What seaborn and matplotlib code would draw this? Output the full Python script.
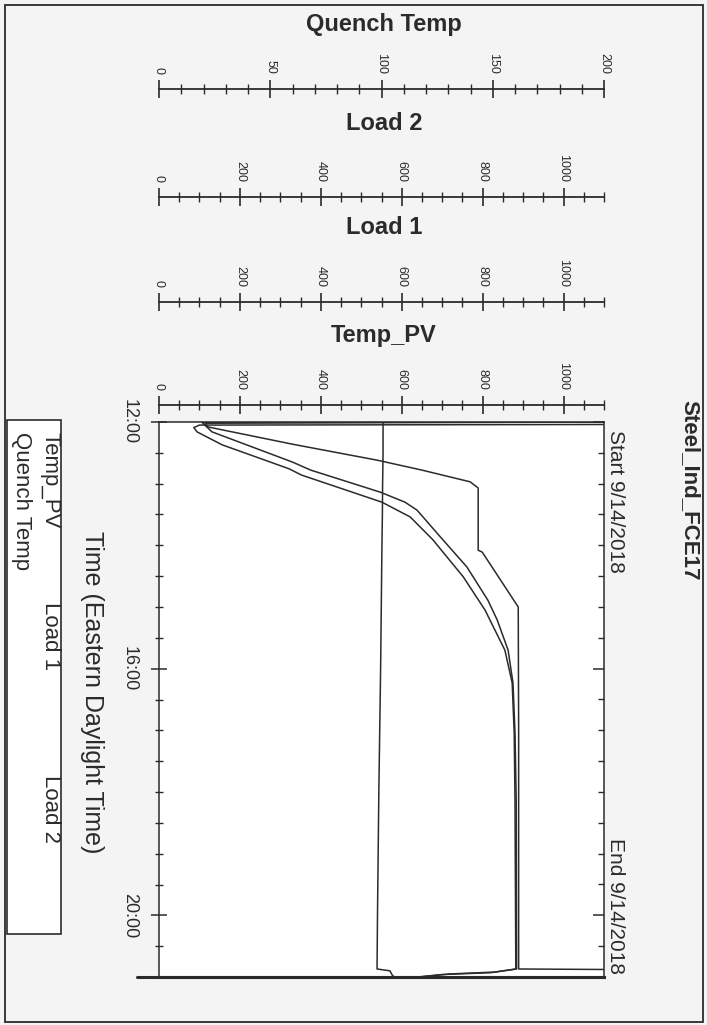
import matplotlib
matplotlib.use("Agg")
import matplotlib.pyplot as plt
import seaborn as sns
import pandas as pd
from matplotlib.ticker import MultipleLocator, FuncFormatter
from matplotlib.patches import Rectangle
from matplotlib.lines import Line2D

# ---------------- data (hours after 12:00, values) ----------------
temp_pv_t = [0.00, 0.02, 0.08, 0.36, 0.62, 0.78, 0.97, 1.07, 2.08, 2.11, 3.00, 5.00, 7.00, 8.87, 8.88, 9.10]
temp_pv_v = [1150, 114, 121, 330, 540, 650, 769, 789, 789, 799, 888, 889, 889, 889, 1150, 1150]

load1_t = [0.00, 0.005, 0.16, 0.65, 0.78, 1.14, 1.30, 1.43, 1.86, 2.35, 2.89, 3.21, 3.70, 4.23, 5.04, 6.13, 8.87, 8.92, 8.95, 8.99, 9.03]
load1_v = [1150, 106, 131, 330, 375, 548, 608, 638, 695, 761, 813, 836, 863, 875, 880, 883, 884, 830, 720, 660, 590]

load2_t = [0.04, 0.05, 0.09, 0.16, 0.37, 0.76, 0.86, 1.30, 1.54, 1.91, 2.51, 3.05, 3.21, 3.70, 4.23, 5.04, 6.13, 8.87, 8.93, 8.96, 9.00, 9.04]
load2_v = [1150, 100, 86, 94, 156, 322, 352, 551, 621, 677, 752, 806, 818, 855, 873, 878, 880, 882, 820, 700, 640, 580]

quench_t = [0.0, 0.5, 1.0, 1.5, 2.0, 3.0, 4.0, 5.0, 6.0, 7.0, 8.0, 8.87, 8.90, 8.98, 9.05]
quench_v = [100.7, 100.7, 100.5, 100.4, 100.2, 99.9, 99.6, 99.2, 98.8, 98.5, 98.2, 98.0, 103.8, 105.0, 109.0]

legend_labels = ["Temp_PV", "Load 1", "Load 2", "Quench Temp"]
strip_titles = ["Quench Temp", "Load 2", "Load 1", "Temp_PV"]
time_ticks_major = 4.0
time_ticks_minor = 0.5
chart_title = "Steel_Ind_FCE17"
start_label = "Start 9/14/2018"
end_label = "End 9/14/2018"
time_label = "Time (Eastern Daylight Time)"

# ---------------- style ----------------
sns.set_theme(style="white")
plt.rcParams["font.family"] = ["Liberation Sans", "DejaVu Sans"]
INK = "#2b2b2b"
plt.rcParams["axes.edgecolor"] = INK
plt.rcParams["xtick.color"] = INK
plt.rcParams["ytick.color"] = INK
plt.rcParams["text.color"] = INK

W, H = 707, 1025
fig = plt.figure(figsize=(W / 100, H / 100), dpi=100, facecolor="#f4f4f4")


def fx(px):
    return px / W


def fy(py):
    return 1 - py / H


L, R, T, B = 159, 604, 422, 977

# ---------------- main plot ----------------
ax = fig.add_axes([fx(L), fy(B), (R - L) / W, (B - T) / H])
ax.set_facecolor("white")

df_pv = pd.DataFrame({"t": temp_pv_t, "v": temp_pv_v})
df_l1 = pd.DataFrame({"t": load1_t, "v": load1_v})
df_l2 = pd.DataFrame({"t": load2_t, "v": load2_v})
for d in (df_pv, df_l1, df_l2):
    sns.lineplot(data=d, x="v", y="t", sort=False, estimator=None, ax=ax,
                 color=INK, linewidth=1.1)
ax.set_xlim(0, 1100)
ax.set_ylim(9, 0)
ax.set_xlabel("")
ax.set_ylabel("")
ax.set_xticks([])

axq = ax.twiny()
df_q = pd.DataFrame({"t": quench_t, "v": quench_v})
sns.lineplot(data=df_q, x="v", y="t", sort=False, estimator=None, ax=axq,
             color=INK, linewidth=1.1)
axq.set_xlim(0, 200)
axq.set_ylim(9, 0)
axq.set_xticks([])
axq.set_xlabel("")
axq.set_ylabel("")
for sp in axq.spines.values():
    sp.set_visible(False)

for sp in ax.spines.values():
    sp.set_linewidth(1.1)
    sp.set_color(INK)
ax.spines["bottom"].set_linewidth(2.2)
ax.add_line(Line2D([-0.05, 1.0], [0, 0], transform=ax.transAxes, clip_on=False,
                   lw=2.2, color=INK))

ax.yaxis.set_major_locator(MultipleLocator(time_ticks_major))
ax.yaxis.set_minor_locator(MultipleLocator(time_ticks_minor))
ax.yaxis.set_major_formatter(FuncFormatter(lambda v, p: f"{12 + int(round(v))}:00"))
ax.tick_params(axis="y", which="both", direction="inout", left=True, right=False)
ax.tick_params(axis="y", which="major", length=11.5, width=1.1, labelsize=13,
               labelrotation=270, pad=9.4)
ax.tick_params(axis="y", which="minor", length=5.8, width=1.0)
for tk in ax.yaxis.get_major_ticks():
    tk.label1.set_verticalalignment("center")

axr = ax.twinx()
axr.set_ylim(9, 0)
axr.yaxis.set_major_locator(MultipleLocator(time_ticks_major))
axr.yaxis.set_minor_locator(MultipleLocator(time_ticks_minor))
axr.tick_params(axis="y", which="both", direction="in", right=True, left=False,
                labelright=False)
axr.tick_params(axis="y", which="major", length=8, width=1.1)
axr.tick_params(axis="y", which="minor", length=4.5, width=1.0)
for sp in axr.spines.values():
    sp.set_visible(False)

# ---------------- scale strips ----------------
strips = [
    (89, 24, strip_titles[0], 200, 50, 10),
    (197, 123, strip_titles[1], 1100, 200, 50),
    (302, 227, strip_titles[2], 1100, 200, 50),
    (405, 335, strip_titles[3], 1100, 200, 50),
]
for line_y, title_y, title, lim, major, minor in strips:
    sax = fig.add_axes([fx(L), fy(line_y), (R - L) / W, 0.0004])
    sax.patch.set_visible(False)
    sax.set_xlim(0, lim)
    sax.set_ylim(0, 1)
    sax.set_yticks([])
    for s in ("top", "left", "right"):
        sax.spines[s].set_visible(False)
    sax.spines["bottom"].set_linewidth(1.3)
    sax.spines["bottom"].set_color(INK)
    sax.xaxis.set_major_locator(MultipleLocator(major))
    sax.xaxis.set_minor_locator(MultipleLocator(minor))
    sax.tick_params(axis="x", which="both", direction="inout", bottom=True, top=False,
                    labelbottom=False, labeltop=True)
    sax.tick_params(axis="x", which="major", length=12.5, width=1.2, labelsize=9,
                    labelrotation=270, pad=4)
    sax.tick_params(axis="x", which="minor", length=7, width=1.0)
    fig.text(fx(384), fy(title_y), title, ha="center", va="center",
             fontsize=17, fontweight="bold")

# ---------------- side texts ----------------
fig.text(fx(690), fy(400), chart_title, rotation=270, ha="center", va="top",
         fontsize=16, fontweight="bold")
fig.text(fx(616), fy(430), start_label, rotation=270, ha="center", va="top", fontsize=15)
fig.text(fx(616), fy(974), end_label, rotation=270, ha="center", va="bottom", fontsize=15)
fig.text(fx(92), fy(531), time_label, rotation=270, ha="center", va="top", fontsize=18)

# ---------------- legend box ----------------
fig.patches.append(Rectangle((fx(7), fy(934)), 54 / W, (934 - 420) / H,
                             transform=fig.transFigure, facecolor="white",
                             edgecolor=INK, lw=1.2))
fig.text(fx(50), fy(432), legend_labels[0], rotation=270, ha="center", va="top", fontsize=16)
fig.text(fx(50), fy(602), legend_labels[1], rotation=270, ha="center", va="top", fontsize=16)
fig.text(fx(50), fy(775), legend_labels[2], rotation=270, ha="center", va="top", fontsize=16)
fig.text(fx(21), fy(432), legend_labels[3], rotation=270, ha="center", va="top", fontsize=16)

# ---------------- page border ----------------
fig.patches.append(Rectangle((fx(5), fy(1022)), 698 / W, (1022 - 5) / H,
                             transform=fig.transFigure, fill=False,
                             edgecolor=INK, lw=1.3))

fig.savefig("out.png", dpi=100, facecolor=fig.get_facecolor())
